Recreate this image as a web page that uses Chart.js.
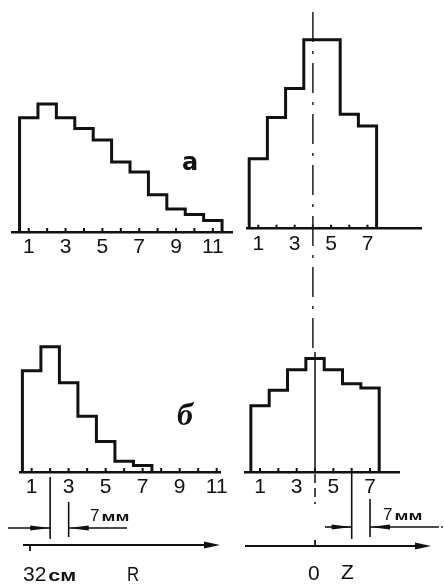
<!DOCTYPE html>
<html lang="ru">
<head>
<meta charset="UTF-8">
<title>Распределения по R и Z</title>
<script src="https://cdn.jsdelivr.net/npm/chart.js"></script>
<style>
  body { margin: 0; background: #fff; }
  .sheet { position: relative; width: 444px; height: 584px; }
  .sheet canvas { position: absolute; left: 0; top: 0; }
</style>
</head>
<body>
<div class="sheet">
  <canvas id="chartRa" width="444" height="584"></canvas>
  <canvas id="chartZa" width="444" height="584"></canvas>
  <canvas id="chartRb" width="444" height="584"></canvas>
  <canvas id="chartZb" width="444" height="584"></canvas>
</div>
<script>
// номера ячеек (шаг 7 мм)
const binsR = [1, 2, 3, 4, 5, 6, 7, 8, 9, 10, 11];
const binsZ = [1, 2, 3, 4, 5, 6, 7];
const tickLabelsR = [1, 3, 5, 7, 9, 11];
const tickLabelsZ = [1, 3, 5, 7];

// относительная интенсивность, максимум по Z в серии "а" = 100
const intensityRa = [60.4, 67.8, 60.4, 54.8, 48.7, 37.0, 31.8, 19.7, 12.2, 9.2, 6.1];
const intensityZa = [37.0, 58.8, 74.2, 100, 100, 60.5, 54.4];
const intensityRb = [53.9, 66.6, 47.5, 29.6, 16.2, 5.7, 3.5, 0, 0, 0, 0];
const intensityZb = [35.3, 43.5, 54.4, 60.4, 54.4, 47.0, 44.7];

const W = 444, H = 584;
const PX_PER_UNIT = 1.917;
const INK = '#111';
const SANS = "'Liberation Sans', Arial, sans-serif";
const TICK_FONT = { family: SANS, size: 21 };
const TICK_PAD = 3;
const AXIS_H = TICK_PAD + TICK_FONT.size * 1.2;

// контур гистограммы: подъём от оси, ступени, спуск к оси
function outline(bins, values) {
  let n = values.length;
  while (n > 0 && values[n - 1] === 0) n--;
  const pts = [{ x: bins[0] - 0.5, y: 0 }];
  for (let i = 0; i < n; i++) {
    pts.push({ x: bins[i] - 0.5, y: values[i] }, { x: bins[i] + 0.5, y: values[i] });
  }
  pts.push({ x: bins[n - 1] + 0.5, y: 0 });
  return pts;
}

// короткие засечки над осью в центрах ячеек
const tickMarks = {
  id: 'tickMarks',
  afterDraw(chart) {
    const { ctx, chartArea } = chart;
    const x = chart.scales.x;
    ctx.save();
    ctx.strokeStyle = INK;
    ctx.lineWidth = 2;
    x.ticks.forEach(t => {
      const px = x.getPixelForValue(t.value);
      ctx.beginPath();
      ctx.moveTo(px, chartArea.bottom);
      ctx.lineTo(px, chartArea.bottom - 4);
      ctx.stroke();
    });
    ctx.restore();
  }
};

function wedge(ctx, tipX, y, dir, len, half) {
  ctx.beginPath();
  ctx.moveTo(tipX, y);
  ctx.lineTo(tipX - dir * len, y - half);
  ctx.lineTo(tipX - dir * len, y + half);
  ctx.closePath();
  ctx.fill();
}

function line(ctx, x1, y1, x2, y2) {
  ctx.beginPath();
  ctx.moveTo(x1, y1);
  ctx.lineTo(x2, y2);
  ctx.stroke();
}

// "7мм" — цифра обычная, единицы жирные и растянутые
function unitText(ctx, x, y, num, unit, numSize, unitSize, stretch) {
  ctx.font = numSize + 'px ' + SANS;
  ctx.fillText(num, x, y);
  const w = ctx.measureText(num).width;
  ctx.save();
  ctx.translate(x + w + 2, y);
  ctx.scale(stretch, 1);
  ctx.font = 'bold ' + unitSize + 'px ' + SANS;
  ctx.fillText(unit, 0, 0);
  ctx.restore();
}

// размерная стрелка "7 мм" между центрами двух соседних ячеек
function dimension(ctx, xa, xb, base, opts) {
  ctx.lineWidth = 1.6;
  line(ctx, xa, base + opts.aTop, xa, base + 67);
  line(ctx, xb, base + opts.bTop, xb, base + 65);
  const y = base + opts.arrowDy;
  line(ctx, opts.from, y, xa, y);
  wedge(ctx, xa, y, 1, 20, 2.6);
  line(ctx, xb, y, opts.to, y);
  wedge(ctx, xb, y, -1, 20, 2.6);
  unitText(ctx, opts.textX, y - 7, '7', 'мм', 17, 13, 1.45);
}

function makePanel(canvasId, bins, values, tickLabels, frame, notes) {
  return new Chart(document.getElementById(canvasId), {
    type: 'line',
    data: {
      datasets: [{
        data: outline(bins, values),
        borderColor: INK,
        borderWidth: 3,
        pointRadius: 0,
        tension: 0,
        fill: false,
        borderJoinStyle: 'miter'
      }]
    },
    options: {
      responsive: false,
      animation: false,
      devicePixelRatio: 1,
      layout: {
        padding: {
          left: frame.left,
          right: W - frame.right,
          top: frame.axisY - frame.yMax * PX_PER_UNIT,
          bottom: H - frame.axisY - AXIS_H
        }
      },
      plugins: { legend: { display: false }, tooltip: { enabled: false } },
      scales: {
        x: {
          type: 'linear',
          min: frame.xMin,
          max: frame.xMax,
          afterBuildTicks: s => { s.ticks = bins.map(v => ({ value: v })); },
          ticks: {
            autoSkip: false,
            maxRotation: 0,
            padding: TICK_PAD,
            color: INK,
            font: TICK_FONT,
            callback: v => tickLabels.includes(v) ? String(v) : ''
          },
          grid: { display: false, drawTicks: false },
          border: { display: true, color: INK, width: 2.5 }
        },
        y: { display: false, min: 0, max: frame.yMax }
      }
    },
    plugins: [tickMarks, { id: canvasId + 'Notes', afterDraw: notes }]
  });
}

// а: распределение по R
makePanel('chartRa', binsR, intensityRa, tickLabelsR,
  { left: 12, right: 232, axisY: 235, xMin: 0.09, xMax: 12.04, yMax: 110 },
  chart => {
    const ctx = chart.ctx;
    ctx.save();
    ctx.fillStyle = INK;
    ctx.font = "bold 24px 'DejaVu Sans', sans-serif";
    ctx.fillText('а', 182, 170);
    ctx.restore();
  });

// а: распределение по Z, штрихпунктир — ось симметрии Z = 0
makePanel('chartZa', binsZ, intensityZa, tickLabelsZ,
  { left: 247, right: 421, axisY: 231.7, xMin: 0.38, xMax: 9.94, yMax: 110 },
  chart => {
    const ctx = chart.ctx;
    const xc = chart.scales.x.getPixelForValue(4);
    ctx.save();
    ctx.strokeStyle = INK;
    ctx.lineWidth = 1.4;
    ctx.setLineDash([30, 9, 3, 9]);
    line(ctx, xc, 12, xc, 352);
    ctx.restore();
  });

// б: распределение по R, внизу размер ячейки и ось R
makePanel('chartRb', binsR, intensityRb, tickLabelsR,
  { left: 20, right: 220, axisY: 475, xMin: 0.37, xMax: 11.18, yMax: 80 },
  chart => {
    const ctx = chart.ctx;
    const x = chart.scales.x;
    const base = chart.chartArea.bottom;
    ctx.save();
    ctx.strokeStyle = INK;
    ctx.fillStyle = INK;
    dimension(ctx, x.getPixelForValue(2), x.getPixelForValue(3), base,
      { aTop: 5, bTop: 30, arrowDy: 56, from: 8, to: 127, textX: 90 });
    // ось R
    const ya = base + 73;
    ctx.lineWidth = 1.8;
    line(ctx, 23, ya, 212, ya);
    wedge(ctx, 220, ya, 1, 16, 3.6);
    line(ctx, 30, ya, 30, ya + 6);
    unitText(ctx, 23, 581, '32', 'см', 21, 16, 1.35);
    ctx.save();
    ctx.translate(127, 581);
    ctx.scale(0.8, 1);
    ctx.font = '21px ' + SANS;
    ctx.fillText('R', 0, 0);
    ctx.restore();
    ctx.font = "bold italic 32px 'Liberation Serif', serif";
    ctx.fillText('б', 177, 425);
    ctx.restore();
  });

// б: распределение по Z, внизу размер ячейки и ось Z
makePanel('chartZb', binsZ, intensityZb, tickLabelsZ,
  { left: 245, right: 399, axisY: 475, xMin: 0.18, xMax: 8.58, yMax: 80 },
  chart => {
    const ctx = chart.ctx;
    const x = chart.scales.x;
    const base = chart.chartArea.bottom;
    const xc = x.getPixelForValue(4);
    ctx.save();
    ctx.strokeStyle = INK;
    ctx.fillStyle = INK;
    // продолжение оси симметрии
    ctx.lineWidth = 1.5;
    line(ctx, xc, 352, xc, base);
    ctx.setLineDash([9, 5]);
    line(ctx, xc, base + 2, xc, base + 32);
    ctx.setLineDash([]);
    dimension(ctx, x.getPixelForValue(6), x.getPixelForValue(7), base,
      { aTop: 0, bTop: 27, arrowDy: 55, from: 325, to: 439, textX: 383 });
    ctx.beginPath();
    ctx.arc(442, base + 55, 0.9, 0, Math.PI * 2);
    ctx.fill();
    // ось Z
    const ya = base + 74;
    ctx.lineWidth = 1.8;
    line(ctx, 245, ya, 422, ya);
    wedge(ctx, 431, ya, 1, 16, 3.6);
    line(ctx, xc, ya, xc, ya - 6);
    ctx.font = '21px ' + SANS;
    ctx.fillText('0', 308, 580);
    ctx.fillText('Z', 341, 579);
    ctx.restore();
  });
</script>
</body>
</html>
